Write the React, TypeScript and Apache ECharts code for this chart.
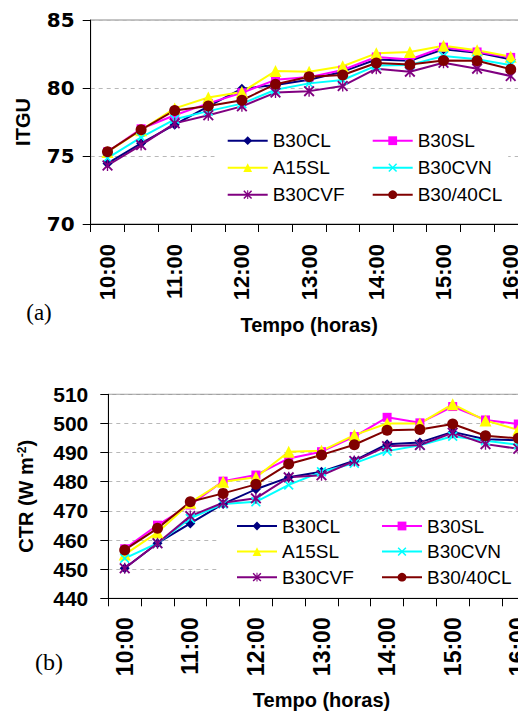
import React, { useEffect, useRef } from "react";
import * as echarts from "echarts";

const FONT = "'Liberation Sans', Arial, Helvetica, sans-serif";

const categories = ["10:00", "10:30", "11:00", "11:30", "12:00", "12:30", "13:00", "13:30", "14:00", "14:30", "15:00", "15:30", "16:00"];
const seriesNames = ["B30CL", "B30SL", "A15SL", "B30CVN", "B30CVF", "B30/40CL"];

// Panel (a) ITGU
const itguB30CL = [74.45, 75.93, 77.3, 78.65, 79.95, 80.22, 80.6, 81.2, 82.1, 82.0, 82.84, 82.6, 82.1];
const itguB30SL = [75.3, 77.0, 78.0, 78.87, 79.65, 80.6, 80.8, 81.32, 82.28, 82.1, 83.0, 82.65, 82.25];
const itguA15SL = [75.3, 76.9, 78.5, 79.3, 79.7, 81.25, 81.2, 81.6, 82.55, 82.65, 83.1, 82.78, 82.3];
const itguB30CVN = [74.85, 76.37, 77.7, 78.3, 78.85, 79.87, 80.34, 80.59, 81.65, 81.7, 82.35, 82.12, 81.69];
const itguB30CVF = [74.3, 75.8, 77.4, 78.0, 78.65, 79.66, 79.77, 80.15, 81.42, 81.2, 81.85, 81.42, 80.88];
const itguB3040CL = [75.32, 76.93, 78.35, 78.68, 79.1, 80.28, 80.83, 80.96, 81.84, 81.72, 82.03, 82.0, 81.38];

// Panel (b) CTR
const ctrB30CL = [450.3, 458.9, 465.7, 472.4, 477.4, 481.5, 483.4, 487.2, 492.9, 493.5, 497.1, 494.6, 494.2];
const ctrB30SL = [457.0, 465.1, 472.0, 480.2, 482.3, 488.0, 490.3, 495.5, 502.1, 500.2, 505.8, 501.2, 499.8];
const ctrA15SL = [455.0, 462.6, 472.8, 480.0, 481.5, 490.3, 490.6, 496.0, 500.0, 500.0, 506.6, 501.0, 497.8];
const ctrB30CVN = [453.7, 458.9, 467.4, 472.4, 473.1, 478.9, 483.4, 486.3, 490.5, 492.5, 495.6, 494.1, 492.7];
const ctrB30CVF = [450.3, 458.9, 468.2, 472.8, 474.3, 481.5, 482.2, 487.1, 492.2, 492.6, 496.8, 492.9, 491.3];
const ctrB3040CL = [456.6, 464.0, 473.1, 476.0, 479.1, 486.1, 489.2, 492.7, 497.7, 497.9, 499.8, 495.8, 494.9];

const itguData = [itguB30CL, itguB30SL, itguA15SL, itguB30CVN, itguB30CVF, itguB3040CL];
const ctrData = [ctrB30CL, ctrB30SL, ctrA15SL, ctrB30CVN, ctrB30CVF, ctrB3040CL];

const CROSS = "path://M0,1.2L1.2,0L5,3.8L8.8,0L10,1.2L6.2,5L10,8.8L8.8,10L5,6.2L1.2,10L0,8.8L3.8,5Z";
const STAR = "path://M0,1.2L1.2,0L5,3.8L8.8,0L10,1.2L6.2,5L10,8.8L8.8,10L5,6.2L1.2,10L0,8.8L3.8,5Z M4.4,0L5.6,0L5.6,10L4.4,10Z";

const colors = ["#000080", "#FF00FF", "#FFFF00", "#00FFFF", "#800080", "#800000"];
const symbols = ["diamond", "rect", "triangle", CROSS, STAR, "circle"];
const symbolSizes = [10, 9, 12, 10, 11, 11];

function makeSeries(data: number[][], axisIndex: number) {
  return data.map((vals, i) => ({
    type: "line",
    name: seriesNames[i],
    xAxisIndex: axisIndex,
    yAxisIndex: axisIndex,
    data: vals,
    symbol: symbols[i],
    symbolSize: symbolSizes[i],
    showAllSymbol: true,
    lineStyle: { color: colors[i], width: 2 },
    itemStyle: { color: colors[i], borderWidth: 0 },
    emphasis: { disabled: true },
    z: 2,
  }));
}

function xAxisCfg(gridIndex: number, fontSize: number, margin: number, nameGap: number) {
  return {
    type: "category",
    gridIndex,
    data: categories,
    boundaryGap: true,
    axisLine: { show: true, lineStyle: { color: "#000", width: 1 } },
    axisTick: { show: true, interval: 0, length: 8, lineStyle: { color: "#000" } },
    axisLabel: { interval: 1, rotate: 90, margin, fontSize, fontWeight: "bold", fontFamily: FONT, color: "#000" },
    splitLine: { show: false },
    name: "Tempo (horas)",
    nameLocation: "middle",
    nameGap,
    nameTextStyle: { fontSize: 20, fontWeight: "bold", fontFamily: FONT, color: "#000" },
  };
}

function legendCfg(names: string[], left: number, top: number, gap: number, padding: number[]) {
  return {
    data: names,
    orient: "vertical",
    left,
    top,
    itemGap: gap,
    itemWidth: 40,
    itemHeight: 11,
    padding,
    backgroundColor: "#fff",
    selectedMode: false,
    textStyle: { fontSize: 19, fontFamily: FONT, color: "#000", lineHeight: 20 },
    z: 4,
  };
}

const option = {
  animation: false,
  backgroundColor: "#fff",
  grid: [
    { left: 90.7, top: 20, width: 436.8, height: 204, show: true, borderColor: "#8a8a8a", borderWidth: 1, outerBoundsMode: "none", containLabel: false },
    { left: 108.3, top: 394.3, width: 426.4, height: 204, show: true, borderColor: "#8a8a8a", borderWidth: 1, outerBoundsMode: "none", containLabel: false },
  ],
  xAxis: [xAxisCfg(0, 22, 20, 91), xAxisCfg(1, 23, 19, 92)],
  yAxis: [
    {
      type: "value",
      gridIndex: 0,
      min: 70,
      max: 85,
      interval: 5,
      axisLine: { show: true, lineStyle: { color: "#000" } },
      axisTick: { show: true, length: 8, lineStyle: { color: "#000" } },
      axisLabel: { margin: 16, fontSize: 20, fontWeight: "bold", fontFamily: "'DejaVu Sans', sans-serif", color: "#000" },
      splitLine: { show: true, lineStyle: { color: "#b8b8b8", type: [4, 4], width: 1 } },
      name: "ITGU",
      nameLocation: "middle",
      nameRotate: 90,
      nameGap: 58,
      nameTextStyle: { fontSize: 20, fontWeight: "bold", fontFamily: FONT, color: "#000" },
    },
    {
      type: "value",
      gridIndex: 1,
      min: 440,
      max: 510,
      interval: 10,
      axisLine: { show: true, lineStyle: { color: "#000" } },
      axisTick: { show: true, length: 8, lineStyle: { color: "#000" } },
      axisLabel: { margin: 20, fontSize: 21, fontWeight: "bold", fontFamily: FONT, color: "#000" },
      splitLine: { show: true, lineStyle: { color: "#b8b8b8", type: [4, 4], width: 1 } },
      name: "{n|CTR (W m}{s|-2}{n|)}",
      nameLocation: "middle",
      nameRotate: 90,
      nameGap: 72,
      nameTextStyle: {
        fontSize: 20,
        fontWeight: "bold",
        fontFamily: FONT,
        color: "#000",
        rich: {
          n: { fontSize: 20, fontWeight: "bold", fontFamily: FONT, color: "#000" },
          s: { fontSize: 12, fontWeight: "bold", fontFamily: FONT, color: "#000", verticalAlign: "top" },
        },
      },
    },
  ],
  legend: [
    legendCfg(["B30CL", "A15SL", "B30CVF"], 214.7, 126.7, 7, [4, 40, 4, 12]),
    legendCfg(["B30SL", "B30CVN", "B30/40CL"], 367.7, 126.7, 7, [4, 6, 4, 4]),
    legendCfg(["B30CL", "A15SL", "B30CVF"], 220, 512, 5.6, [4, 40, 4, 16]),
    legendCfg(["B30SL", "B30CVN", "B30/40CL"], 377, 512, 5.6, [4, 10, 4, 4]),
  ],
  graphic: [
    { type: "text", x: 39, y: 312, style: { text: "(a)", fontSize: 23, fontFamily: "'Liberation Serif', 'Times New Roman', serif", fill: "#000", align: "center", verticalAlign: "middle" } },
    { type: "text", x: 49, y: 662, style: { text: "(b)", fontSize: 24, fontFamily: "'Liberation Serif', 'Times New Roman', serif", fill: "#000", align: "center", verticalAlign: "middle" } },
  ],
  series: [...makeSeries(itguData, 0), ...makeSeries(ctrData, 1)],
};

export default function App() {
  const ref = useRef<HTMLDivElement>(null);
  useEffect(() => {
    const chart = echarts.init(ref.current as HTMLDivElement, null, { renderer: "svg" });
    chart.setOption(option as any);
    return () => chart.dispose();
  }, []);
  return <div ref={ref} style={{ position: "fixed", left: 0, top: 0, width: 518, height: 712, background: "#fff" }} />;
}
